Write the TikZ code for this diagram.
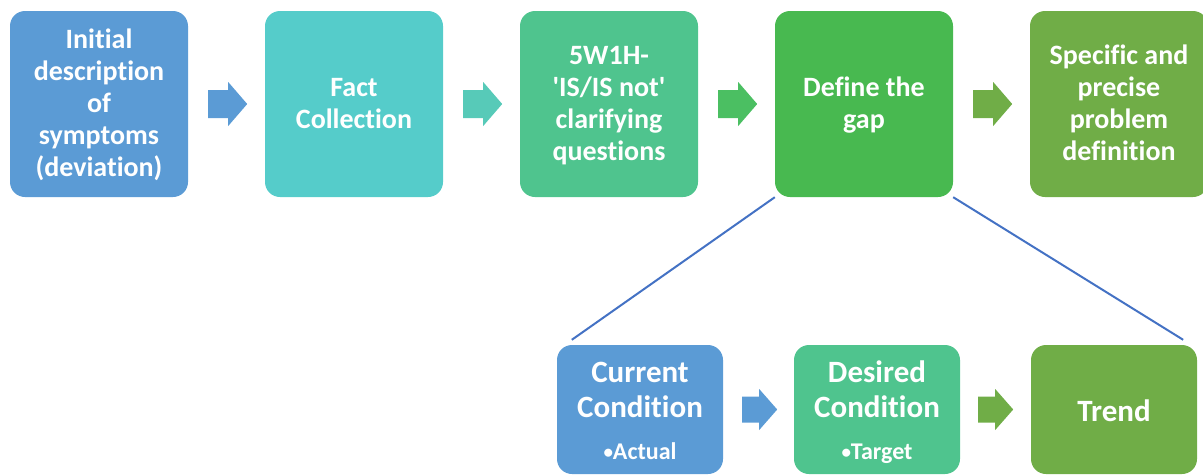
\documentclass[tikz,border=0pt]{standalone}
\usepackage{fontspec}
\setmainfont{Carlito}[Ligatures={NoCommon}]
\definecolor{cblue}{HTML}{5B9BD5}
\definecolor{cteal}{HTML}{55CCCA}
\definecolor{cteal2}{HTML}{57CAB8}
\definecolor{cmint}{HTML}{4FC48E}
\definecolor{cgreen}{HTML}{48B950}
\definecolor{cgreen2}{HTML}{4BBF62}
\definecolor{colive}{HTML}{70AD47}
\definecolor{lineblue}{HTML}{4472C4}
% struts that fix the height of a first line and the depth of a last line
\newcommand\firstln[1]{\rule{0pt}{#1}}
\newcommand\lastln[1]{\rule[-#1]{0pt}{#1}}
\newcommand\bulletitem[1]{{\fontsize{24}{24}\selectfont
  \raisebox{1.2pt}{\fontsize{19}{19}\selectfont\textbullet}#1}}
\begin{document}
\begin{tikzpicture}[x=1pt, y=-1pt,
  topbox/.style={rounded corners=15pt, inner sep=0pt, minimum width=178pt,
    minimum height=186pt, align=center, text=white,
    font=\fontsize{28}{32}\selectfont\bfseries},
  lowbox/.style={rounded corners=15pt, inner sep=0pt, minimum width=166pt,
    minimum height=129pt, align=center, text=white,
    font=\fontsize{31}{34.5}\selectfont\bfseries},
  gapline/.style={draw=lineblue, line width=2pt},
  pics/bigarrow/.style={code={
    \fill[#1] (0,-14) -- (20,-14) -- (20,-22) -- (39,0) -- (20,22)
      -- (20,14) -- (0,14) -- cycle;}},
  pics/smallarrow/.style={code={
    \fill[#1] (0,-13) -- (17,-13) -- (17,-20.5) -- (35,0) -- (17,20.5)
      -- (17,13) -- (0,13) -- cycle;}},
]
\useasboundingbox (0,0) rectangle (1203,475);

% main process row
\node[topbox, fill=cblue]  (b1)  at (99,104)
  {\firstln{24pt}Initial\\description\\of\\symptoms\\(deviation)\lastln{7pt}};
\node[topbox, fill=cteal]  (b2)  at (354,104)
  {\firstln{24pt}Fact\\Collection\lastln{7pt}};
\node[topbox, fill=cmint]  (b3)  at (609,104)
  {\firstln{24pt}5W1H-\\\textquotesingle IS/IS not\textquotesingle\\clarifying\\questions\lastln{7pt}};
\node[topbox, fill=cgreen] (gap) at (864,104)
  {\firstln{24pt}Define the\\gap\lastln{7pt}};
\node[topbox, fill=colive] (b5)  at (1119,104)
  {\firstln{24pt}Specific and\\precise\\problem\\definition\lastln{7pt}};

\path (b1.east)  ++(20,0) pic {bigarrow=cblue};
\path (b2.east)  ++(20,0) pic {bigarrow=cteal2};
\path (b3.east)  ++(20,0) pic {bigarrow=cgreen2};
\path (gap.east) ++(20,0) pic {bigarrow=colive};

% gap breakdown row
\node[lowbox, fill=cblue]  (cur)   at (640,409.5)
  {\firstln{29pt}Current\\Condition\\[8pt]\bulletitem{Actual}\lastln{6pt}};
\node[lowbox, fill=cmint]  (des)   at (877,409.5)
  {\firstln{29pt}Desired\\Condition\\[8pt]\bulletitem{Target}\lastln{6pt}};
\node[lowbox, fill=colive] (trend) at (1114,409.5)
  {\firstln{29pt}Trend\lastln{6pt}};

\path (cur.east) ++(19,0) pic {smallarrow=cblue};
\path (des.east) ++(18,0) pic {smallarrow=colive};

\draw[gapline] (gap.south west) -- ([xshift=15pt, yshift=5pt]cur.north west);
\draw[gapline] (gap.south east) -- ([xshift=-14pt, yshift=5pt]trend.north east);
\end{tikzpicture}
\end{document}
